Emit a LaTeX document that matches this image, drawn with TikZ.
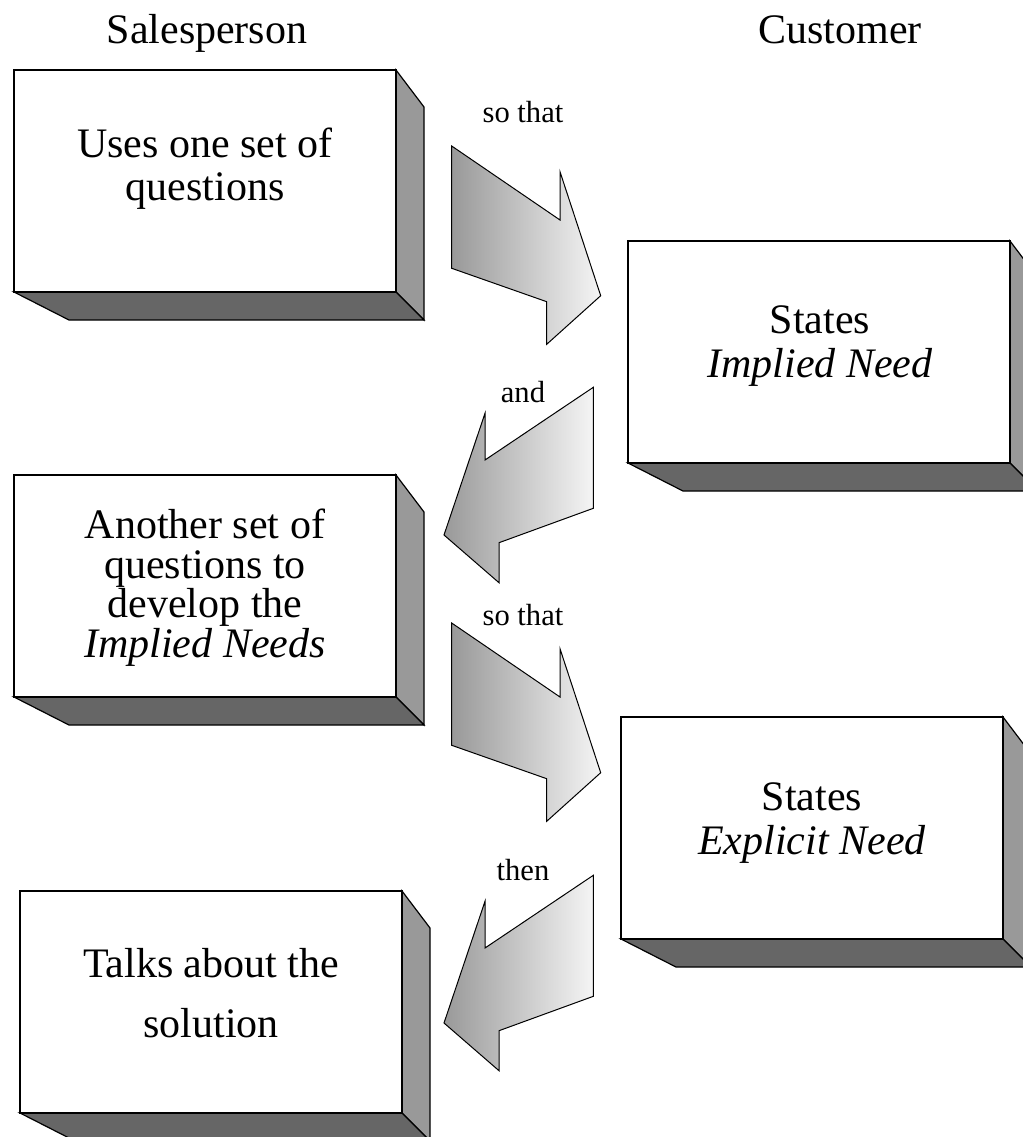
\documentclass[tikz,border=0pt]{standalone}
\usepackage{fontspec}
\setmainfont{Liberation Serif}
\definecolor{sidegray}{HTML}{999999}
\definecolor{floorgray}{HTML}{666666}
\tikzset{
  slabfront/.style={draw=black,fill=white,line width=0.6pt},
  slabside/.style={draw=black,fill=sidegray,line width=0.6pt},
  slabfloor/.style={draw=black,fill=floorgray,line width=0.6pt},
  blockarrow/.style={draw=black,line width=0.5pt,left color=sidegray,right color=black!4},
  boxtext/.style={align=center,font=\fontsize{21pt}{20.5pt}\selectfont},
  header/.style={anchor=base,font=\fontsize{21pt}{24pt}\selectfont},
  flowlabel/.style={anchor=base,font=\fontsize{15.3pt}{18pt}\selectfont}
}

\begin{document}
\begin{tikzpicture}[x=0.5pt,y=-0.5pt]
		\useasboundingbox (0,0) rectangle (1023,1137);
		\clip (0,0) rectangle (1023,1137);
		% column heads
		\node[header] (sales) at (207,43) {Salesperson};
		\node[header] (cust) at (840,43) {Customer};
		% salesperson slabs
		\draw[slabside] (396,70) -- ++(28,37) -- ++(0,213) -- ++(-28,-28) -- cycle;
		\draw[slabfloor] (14,292) -- ++(382,0) -- ++(28,28) -- ++(-355,0) -- cycle;
		\draw[slabfront] (14,70) rectangle ++(382,222);
		\draw[slabside] (396,475) -- ++(28,37) -- ++(0,213) -- ++(-28,-28) -- cycle;
		\draw[slabfloor] (14,697) -- ++(382,0) -- ++(28,28) -- ++(-355,0) -- cycle;
		\draw[slabfront] (14,475) rectangle ++(382,222);
		\draw[slabside] (402,891) -- ++(28,37) -- ++(0,213) -- ++(-28,-28) -- cycle;
		\draw[slabfloor] (20,1113) -- ++(382,0) -- ++(28,28) -- ++(-355,0) -- cycle;
		\draw[slabfront] (20,891) rectangle ++(382,222);
		% customer slabs
		\draw[slabside] (1010,241) -- ++(28,37) -- ++(0,213) -- ++(-28,-28) -- cycle;
		\draw[slabfloor] (628,463) -- ++(382,0) -- ++(28,28) -- ++(-355,0) -- cycle;
		\draw[slabfront] (628,241) rectangle ++(382,222);
		\draw[slabside] (1003,717) -- ++(28,37) -- ++(0,213) -- ++(-28,-28) -- cycle;
		\draw[slabfloor] (621,939) -- ++(382,0) -- ++(28,28) -- ++(-355,0) -- cycle;
		\draw[slabfront] (621,717) rectangle ++(382,222);
		% texts on the slabs
		\node[boxtext,font=\fontsize{21pt}{21.5pt}\selectfont] (uses) at (205,168.5) {Uses one set of\\questions};
		\node[boxtext,font=\fontsize{21pt}{22pt}\selectfont] (implied) at (820,346.5) {States\\\textit{Implied Need}};
		\node[boxtext,font=\fontsize{21pt}{19.75pt}\selectfont] (develop) at (205,587.5) {Another set of\\questions to\\develop the\\\textit{Implied Needs}};
		\node[boxtext,font=\fontsize{21pt}{22pt}\selectfont] (explicit) at (812,823) {States\\\textit{Explicit Need}};
		\node[boxtext,font=\fontsize{21pt}{19.5pt}\selectfont] (talks) at (211,993) {Talks about the\\[10.5pt]solution};
		% block arrows
		\draw[blockarrow] (451.7,146) -- (560,220) -- (560,171.7) -- (600.7,295.7) -- (546.7,344.3) -- (546.7,301.7) -- (451.7,268.3) -- cycle;
		\draw[blockarrow] (593.3,387.3) -- (593.3,508.3) -- (499,542.7) -- (499,582.7) -- (444,535) -- (485,413.3) -- (485,460) -- cycle;
		\draw[blockarrow,shift={(0,477)}] (451.7,146) -- (560,220) -- (560,171.7) -- (600.7,295.7) -- (546.7,344.3) -- (546.7,301.7) -- (451.7,268.3) -- cycle;
		\draw[blockarrow,shift={(0,488)}] (593.3,387.3) -- (593.3,508.3) -- (499,542.7) -- (499,582.7) -- (444,535) -- (485,413.3) -- (485,460) -- cycle;
		\node[flowlabel] (sothat) at (523,122) {so that};
		\node[flowlabel] (and) at (523,402) {and};
		\node[flowlabel] (sothatagain) at (523,625) {so that};
		\node[flowlabel] (then) at (523,880) {then};
	\end{tikzpicture}
\end{document}
